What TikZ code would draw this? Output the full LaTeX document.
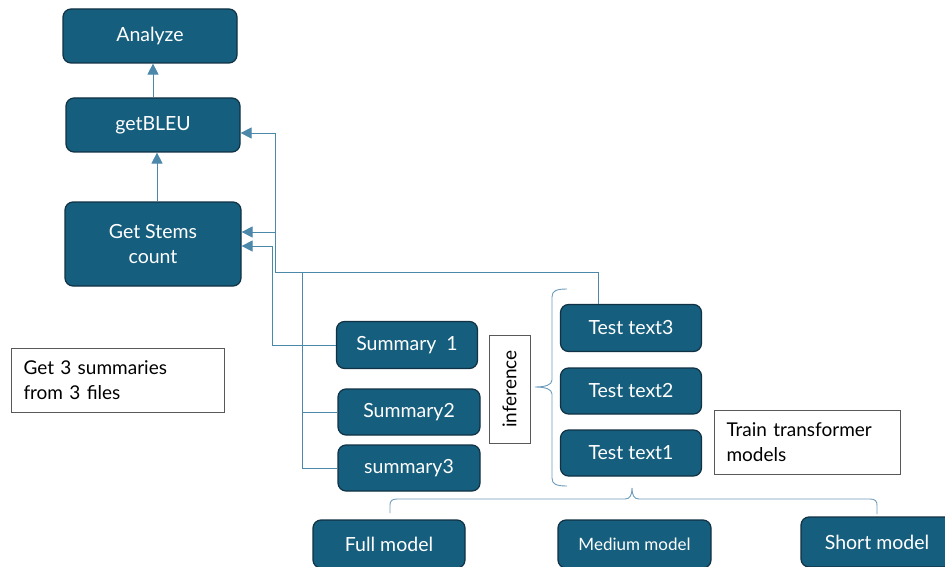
\documentclass[tikz,border=0pt]{standalone}
\usepackage{fontspec}
\setmainfont{Lato}
\usetikzlibrary{arrows.meta,calc}

\definecolor{stagefill}{RGB}{22,94,125}
\definecolor{stageedge}{RGB}{17,50,68}
\definecolor{linkcolor}{RGB}{75,136,170}
\definecolor{bracecolor}{RGB}{110,156,188}

\tikzset{
  stage/.style={draw=stageedge, fill=stagefill, line width=1.2pt, rounded corners=8pt,
    text=white, align=center, font=\fontsize{19.5}{25}\selectfont},
  note/.style={draw=black!65, line width=1pt, fill=white, align=left,
    font=\fontsize{19}{25}\selectfont, inner xsep=12pt},
  link/.style={draw=linkcolor, line width=0.9pt},
  feed/.style={link, -{Triangle[length=11pt,width=11pt]}},
  curly/.style={draw=bracecolor, line width=0.9pt}
}

\begin{document}
\begin{tikzpicture}[x=1pt, y=-1pt]
\clip (0,0) rectangle (945,567);
\fill[white] (0,0) rectangle (945,567);

\node[stage, minimum width=174pt, minimum height=54pt] (analyze) at (150,36) {Analyze};
\node[stage, minimum width=174pt, minimum height=54pt] (getbleu) at (153,125) {getBLEU};
\node[stage, minimum width=176pt, minimum height=84pt] (stems) at (153,244) {Get Stems\\count};

\node[stage, minimum width=141pt, minimum height=47pt] (sumA) at (407,345) {Summary\ \ 1};
\node[stage, minimum width=142pt, minimum height=46pt] (sumB) at (409,412) {Summary2};
\node[stage, minimum width=142pt, minimum height=46pt] (sumC) at (409,468) {summary3};

\node[note, rotate=90, minimum width=108pt, minimum height=41pt, align=center, inner sep=2pt] (infer) at (509.5,389) {inference};

\node[stage, minimum width=141pt, minimum height=47pt] (testC) at (631,328) {Test text3};
\node[stage, minimum width=141pt, minimum height=46pt] (testB) at (631,391) {Test text2};
\node[stage, minimum width=141pt, minimum height=46pt] (testA) at (631,453) {Test text1};

\node[note, text width=189pt, minimum height=64pt] (files) at (118,380) {Get 3 summaries\\from 3 files};
\node[note, text width=162pt, minimum height=64pt] (train) at (807.5,442) {Train transformer\\models};

\node[stage, minimum width=152pt, minimum height=48pt] (full) at (389,544) {Full model};
\node[stage, minimum width=153pt, minimum height=48pt, font=\fontsize{17}{20}\selectfont] (medium) at (634.5,544) {Medium model};
\node[stage, minimum width=152pt, minimum height=50pt] (short) at (877,542) {Short model};

\draw[feed] (getbleu.north) -- (getbleu.north |- analyze.south);
\draw[feed] ([xshift=4pt]stems.north) -- ([xshift=4pt]stems.north |- getbleu.south);

\coordinate (junction) at (275,272);
\coordinate (spine) at (302,272);
\coordinate (upper) at ($(stems.east)+(0,-12)$);
\coordinate (lower) at ($(stems.east)+(0,2)$);

\draw[feed] ([xshift=-33pt]testC.north) |- (junction) |- ($(getbleu.east)+(0,8)$);
\draw[feed] (junction |- upper) -- (upper);
\draw[feed] (sumA.west) -| ([xshift=31pt]lower) -- (lower);
\draw[link] (sumC.west) -| (spine);
\draw[link] (sumB.west) -- (sumB.west -| spine);

\draw[curly] (567,289) .. controls (556,289) and (552,291) .. (552,297) -- (552,380)
  .. controls (552,385) and (545,387) .. (535,387)
  .. controls (545,387) and (552,389) .. (552,394) -- (552,478)
  .. controls (552,484) and (556,486) .. (567,486);
\draw[curly] (390,513) -- (390,505) .. controls (390,501) and (392,499) .. (397,499) -- (625,499)
  .. controls (630,499) and (632,495) .. (632,488)
  .. controls (632,495) and (634,499) .. (639,499) -- (870,499)
  .. controls (875,499) and (877,501) .. (877,505) -- (877,514);
\end{tikzpicture}
\end{document}
